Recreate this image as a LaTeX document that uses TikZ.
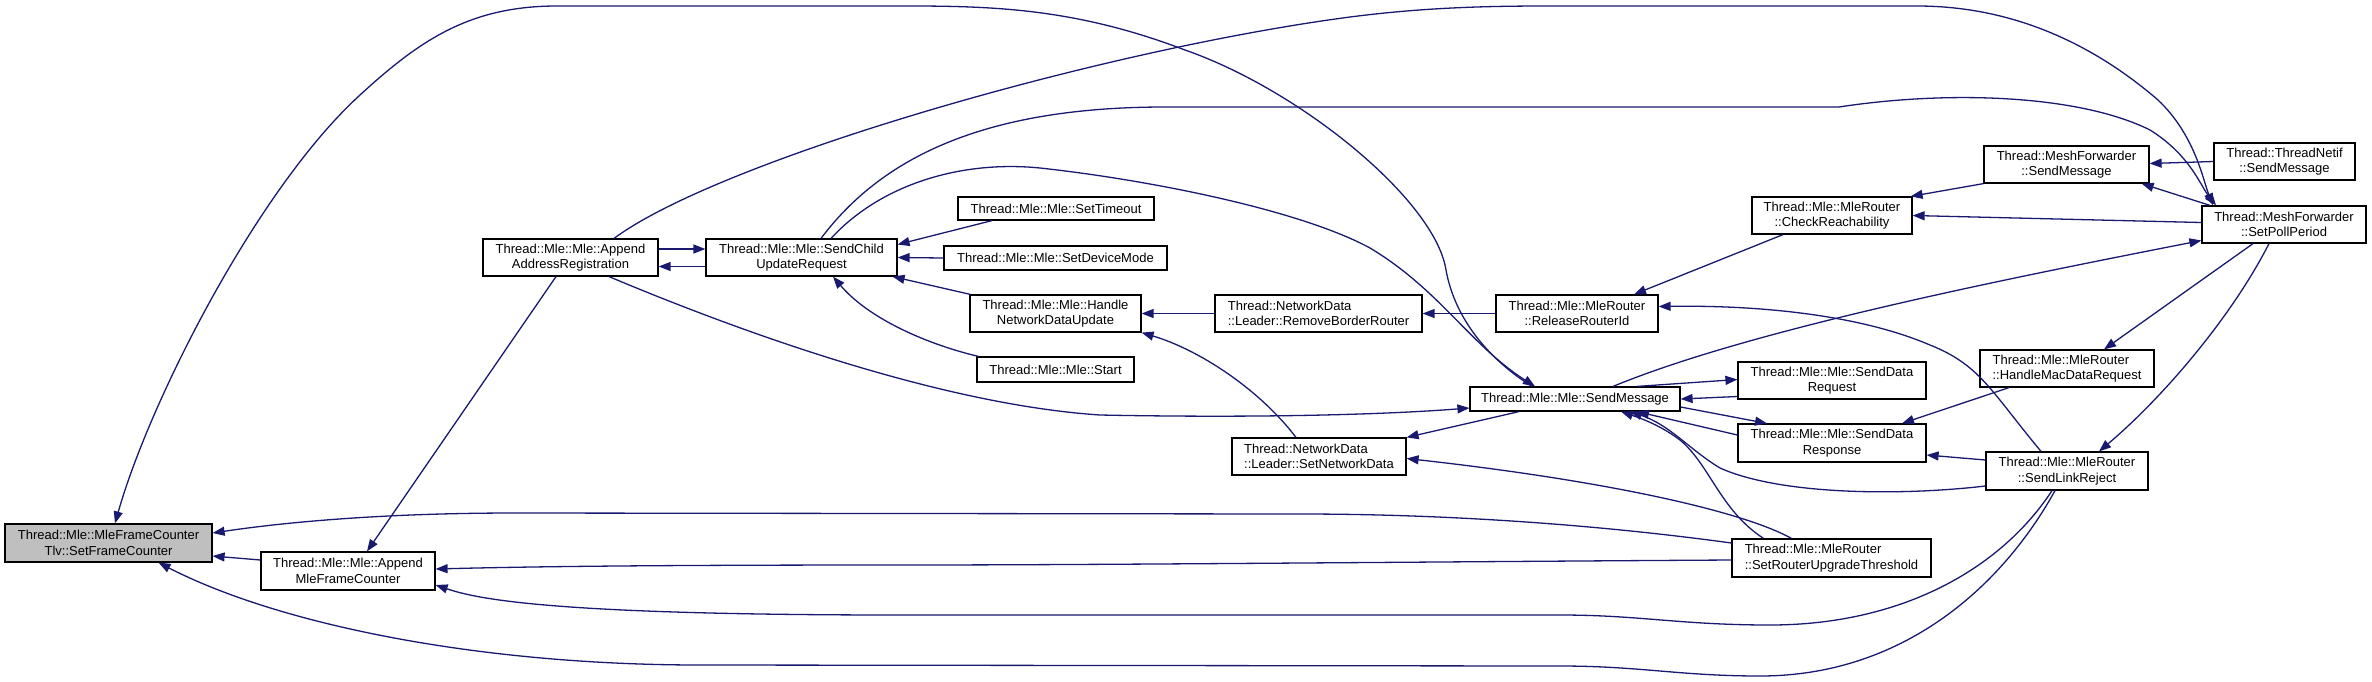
\documentclass[tikz,border=0pt]{standalone}
\usepackage{fontspec}
\setmainfont{Liberation Sans}
\usetikzlibrary{arrows.meta}
\definecolor{edgeblue}{HTML}{191970}
\definecolor{rootgray}{HTML}{BFBFBF}
\begin{document}
\begin{tikzpicture}[x=1pt,y=-1pt,
  fn/.style={draw=black, line width=1.2pt, fill=white, inner sep=0pt, font=\fontsize{13}{15.5}\selectfont, align=center},
  fnl/.style={fn, align=left},
  call/.style={draw=edgeblue, line width=1.3pt, -{Triangle[length=12pt,width=9pt]}},
]
\useasboundingbox (0,0) rectangle (2372,681);

% nodes
\node[fn, fill=rootgray, minimum width=207, minimum height=38] (sfc) at (108.5,543) {Thread::Mle::MleFrameCounter\\Tlv::SetFrameCounter};
\node[fn, minimum width=174, minimum height=38] (amfc) at (348,571) {Thread::Mle::Mle::Append\\MleFrameCounter};
\node[fn, minimum width=175, minimum height=37] (aar) at (570.5,257.5) {Thread::Mle::Mle::Append\\AddressRegistration};
\node[fn, minimum width=191, minimum height=37] (scur) at (801.5,257.5) {Thread::Mle::Mle::SendChild\\UpdateRequest};
\node[fn, minimum width=196, minimum height=23] (sto) at (1056,208.5) {Thread::Mle::Mle::SetTimeout};
\node[fn, minimum width=223, minimum height=24] (sdm) at (1055.5,258) {Thread::Mle::Mle::SetDeviceMode};
\node[fn, minimum width=171, minimum height=37] (hndu) at (1055.5,313.5) {Thread::Mle::Mle::Handle\\NetworkDataUpdate};
\node[fn, minimum width=157, minimum height=25] (start) at (1055.5,369.5) {Thread::Mle::Mle::Start};
\node[fnl, minimum width=207, minimum height=37] (rbr) at (1318.5,313.5) {Thread::NetworkData\\::Leader::RemoveBorderRouter};
\node[fnl, minimum width=174, minimum height=37] (snd) at (1319,456.5) {Thread::NetworkData\\::Leader::SetNetworkData};
\node[fn, minimum width=162, minimum height=37] (rri) at (1577,313.5) {Thread::Mle::MleRouter\\::ReleaseRouterId};
\node[fn, minimum width=210, minimum height=24] (msm) at (1575,399) {Thread::Mle::Mle::SendMessage};
\node[fnl, minimum width=199, minimum height=38] (srut) at (1831.5,558) {Thread::Mle::MleRouter\\::SetRouterUpgradeThreshold};
\node[fn, minimum width=160, minimum height=37] (cr) at (1832,215.5) {Thread::Mle::MleRouter\\::CheckReachability};
\node[fn, minimum width=188, minimum height=37] (sdreq) at (1832,380.5) {Thread::Mle::Mle::SendData\\Request};
\node[fn, minimum width=188, minimum height=38] (sdres) at (1832,443) {Thread::Mle::Mle::SendData\\Response};
\node[fn, minimum width=165, minimum height=37] (mfsm) at (2066.5,164.5) {Thread::MeshForwarder\\::SendMessage};
\node[fnl, minimum width=174, minimum height=37] (hmdr) at (2067,368.5) {Thread::Mle::MleRouter\\::HandleMacDataRequest};
\node[fn, minimum width=162, minimum height=38] (slr) at (2067,471) {Thread::Mle::MleRouter\\::SendLinkReject};
\node[fn, minimum width=141, minimum height=37] (tnsm) at (2284.5,161.5) {Thread::ThreadNetif\\::SendMessage};
\node[fn, minimum width=164, minimum height=37] (spp) at (2284,224.5) {Thread::MeshForwarder\\::SetPollPeriod};

% edges
\draw[call] ([xshift=-43]msm.north) .. controls (1490,360) and (1455,320) .. (1446,270) .. controls (1435,200) and (1300,90) .. (1185,50) .. controls (1080,10) and (1000,6) .. (910,6) -- (557,6) .. controls (470,6) and (420,40) .. (360,95) .. controls (258,188) and (150,400) .. ([xshift=6.5]sfc.north);
\draw[call] ([xshift=43.5]aar.north) .. controls (720,160) and (1100,50) .. (1350,17) .. controls (1420,8) and (1480,6) .. (1546,6) -- (1917,6) .. controls (2020,6) and (2100,50) .. (2158,100) .. controls (2195,135) and (2203,180) .. ([xshift=-71]spp.north);
\draw[call] ([xshift=19.5]scur.north) .. controls (880,160) and (980,107) .. (1165,107) -- (1839,107) .. controls (1950,90) and (2080,95) .. (2150,130) .. controls (2190,155) and (2200,185) .. ([xshift=-68]spp.north);
\draw[call] ([xshift=29.5]scur.north) .. controls (880,185) and (960,160) .. (1040,168) .. controls (1150,180) and (1300,210) .. (1370,248) .. controls (1440,290) and (1470,345) .. ([xshift=-40]msm.north);
\draw[call] ([yshift=8.5]aar.east) -- ([yshift=8.5]scur.west);
\draw[call] ([yshift=-9]scur.west) -- ([yshift=-9]aar.east);
\draw[call] ([xshift=-64]sto.south) -- ([yshift=13]scur.east);
\draw[call] (sdm.west) -- (scur.east);
\draw[call] ([xshift=1]hndu.north west) -- ([xshift=-5]scur.south east);
\draw[call] ([xshift=2]start.north west) .. controls (930,345) and (870,320) .. ([xshift=31.5]scur.south);
\draw[call] ([xshift=-14.5]aar.south) -- ([xshift=19]amfc.north);
\draw[call] ([xshift=38.5]aar.south) .. controls (760,340) and (950,405) .. (1100,415) .. controls (1250,418) and (1380,415) .. ([yshift=-9]msm.west);
\draw[call] ([yshift=11]amfc.west) -- ([yshift=-13]sfc.east);
\draw[call] ([yshift=15]srut.west) .. controls (1600,525) and (1450,514) .. (1300,514) -- (515,513) .. controls (400,513) and (300,520) .. ([yshift=10]sfc.east);
\draw[call] ([yshift=-2]srut.west) .. controls (1400,562) and (1100,565) .. (900,565) .. controls (700,565) and (550,566) .. ([yshift=2]amfc.east);
\draw[call] ([xshift=-15]slr.south) .. controls (2000,570) and (1900,625) .. (1770,625) .. controls (1680,625) and (1640,615) .. (1560,615) -- (900,615) .. controls (560,615) and (480,600) .. ([yshift=-14]amfc.east);
\draw[call] ([xshift=-12]slr.south) .. controls (2000,590) and (1900,676) .. (1760,676) .. controls (1680,676) and (1640,666) .. (1560,666) -- (700,665) .. controls (480,665) and (280,625) .. ([xshift=50]sfc.south);
\draw[call] ([xshift=-40]srut.north) .. controls (1740,510) and (1600,480) .. ([yshift=-2]snd.east);
\draw[call] ([xshift=-68]srut.north) .. controls (1720,510) and (1710,465) .. (1680,440) .. controls (1660,425) and (1640,418) .. ([xshift=46]msm.south);
\draw[call] ([yshift=-15]slr.west) .. controls (1900,496) and (1780,495) .. (1720,468) .. controls (1690,450) and (1670,425) .. ([xshift=55]msm.south);
\draw[call] ([yshift=8]sdres.west) -- ([xshift=62]msm.south);
\draw[call] ([yshift=-8]msm.east) -- ([xshift=-65]sdres.north);
\draw[call] ([xshift=62]msm.north) -- ([yshift=1]sdreq.west);
\draw[call] ([yshift=-16]sdreq.west) -- (msm.east);
\draw[call] ([xshift=38]msm.north) .. controls (1750,330) and (2000,280) .. ([yshift=-16]spp.west);
\draw[call] ([xshift=-56]msm.south) -- (snd.north east);
\draw[call] ([xshift=-23]snd.north) .. controls (1260,390) and (1200,350) .. (hndu.south east);
\draw[call] (rbr.west) -- (hndu.east);
\draw[call] (rri.west) -- (rbr.east);
\draw[call] ([xshift=-49]cr.south) -- ([xshift=57]rri.north);
\draw[call] ([xshift=-26]slr.north) .. controls (1990,390) and (1980,365) .. (1930,345) .. controls (1860,315) and (1760,305) .. ([yshift=7]rri.east);
\draw[call] ([yshift=11]slr.west) -- ([yshift=-12]sdres.east);
\draw[call] ([xshift=-58]hmdr.south) -- ([xshift=70]sdres.north);
\draw[call] ([xshift=-31]spp.south) -- ([xshift=37]hmdr.north);
\draw[call] ([xshift=-15]spp.south) .. controls (2230,320) and (2160,400) .. ([xshift=32]slr.north);
\draw[call] ([yshift=2]spp.west) -- (cr.east);
\draw[call] (mfsm.south west) -- ([xshift=-2]cr.north east);
\draw[call] (tnsm.west) -- ([yshift=1]mfsm.east);
\draw[call] ([xshift=-74]spp.north) -- ([xshift=-8]mfsm.south east);
\end{tikzpicture}
\end{document}
